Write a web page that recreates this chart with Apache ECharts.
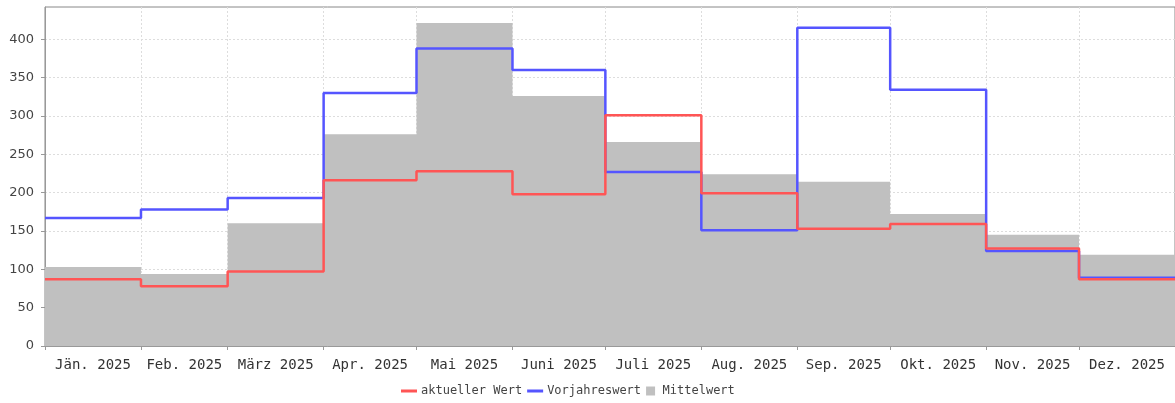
<!DOCTYPE html>
<html>
<head>
<meta charset="utf-8">
<script src="https://cdn.jsdelivr.net/npm/echarts@6/dist/echarts.min.js"></script>
<style>
html, body { margin: 0; background: #fff; }
#chart { width: 1175px; height: 403px; }
</style>
</head>
<body>
<div id="chart"></div>
<script>
// Monate und Tage pro Monat (Zeitachse, daher ungleiche Breiten)
const monthLabels = ['Jän. 2025', 'Feb. 2025', 'März 2025', 'Apr. 2025', 'Mai 2025', 'Juni 2025',
    'Juli 2025', 'Aug. 2025', 'Sep. 2025', 'Okt. 2025', 'Nov. 2025', 'Dez. 2025']
const monthDays = [31, 28, 31, 30, 31, 30, 31, 31, 30, 31, 30, 31]
// Werte
const aktuellerWert = [87, 78, 97, 216, 228, 198, 301, 199, 153, 159, 127, 87]
const vorjahresWert = [167, 178, 193, 330, 388, 360, 227, 151, 415, 334, 124, 89]
const mittelWert = [103, 94, 160, 276, 421, 326, 266, 224, 214, 172, 145, 119]
const yTicks = [0, 50, 100, 150, 200, 250, 300, 350, 400]

//Monatsanfang in Tagen
const monthStarts = [0]
monthDays.forEach((d) => monthStarts.push(monthStarts[monthStarts.length - 1] + d))
const monthMids = monthDays.map((d, i) => monthStarts[i] + d / 2)
//Stufen-Daten: jeder Monat beginnt bei seinem Start, letzter Punkt am Jahresende
const toStep = (vals) => vals.map((v, i) => [monthStarts[i], v]).concat([[monthStarts[12], vals[11]]])

const chart = echarts.init(document.getElementById('chart'))
const option = {
    animation: false,
    grid: {
        left: 45,
        right: 0,
        top: 7,
        bottom: 57,
        show: true,
        borderColor: '#888',
        borderWidth: 1
    },
    legend: {
        top: 380,
        left: 396,
        itemWidth: 16,
        itemHeight: 9,
        itemGap: 5,
        symbolKeepAspect: true,
        textStyle: { fontFamily: 'DejaVu Sans Mono', fontSize: 12, color: '#444', padding: [0, 0, 0, -1] },
        data: [
            { name: 'aktueller Wert', icon: 'path://M0,0H16V3H0Z' },
            { name: 'Vorjahreswert', icon: 'path://M0,0H16V3H0Z' },
            { name: 'Mittelwert', icon: 'path://M0,0H9V9H0Z' }
        ]
    },
    xAxis: {
        type: 'value',
        min: 0,
        max: 365,
        offset: 5,
        axisLine: { show: true, lineStyle: { color: '#999' } },
        axisTick: { show: true, length: 4, customValues: monthStarts, lineStyle: { color: '#999' } },
        axisLabel: {
            customValues: monthMids,
            margin: 7,
            fontFamily: 'DejaVu Sans Mono',
            fontSize: 14,
            color: '#333',
            formatter: (v) => {
                const i = monthMids.findIndex((m) => Math.abs(m - v) < 0.01)
                return i >= 0 ? monthLabels[i] : ''
            }
        },
        splitLine: { show: true, lineStyle: { color: '#ddd', type: [2, 2] } }
    },
    yAxis: {
        type: 'value',
        min: 0,
        max: 442,
        offset: 3,
        axisLine: { show: true, lineStyle: { color: '#999' } },
        axisTick: { show: true, length: 4, customValues: yTicks, lineStyle: { color: '#999' } },
        axisLabel: {
            customValues: yTicks,
            margin: 8,
            fontFamily: 'DejaVu Sans',
            fontSize: 13,
            color: '#444'
        },
        splitLine: { show: true, lineStyle: { color: '#ddd', type: [2, 2] } }
    },
    series: [
        {
            name: 'aktueller Wert',
            type: 'line',
            step: 'end',
            symbol: 'none',
            z: 4,
            color: '#ff5555',
            lineStyle: { width: 2.5, color: '#ff5555' },
            data: toStep(aktuellerWert)
        },
        {
            name: 'Vorjahreswert',
            type: 'line',
            step: 'end',
            symbol: 'none',
            z: 3,
            color: '#5555ff',
            lineStyle: { width: 2.5, color: '#5555ff' },
            data: toStep(vorjahresWert)
        },
        {
            name: 'Mittelwert',
            type: 'line',
            step: 'end',
            symbol: 'none',
            z: 2,
            color: '#c0c0c0',
            lineStyle: { width: 0 },
            areaStyle: { color: '#c0c0c0', opacity: 1 },
            data: toStep(mittelWert)
        }
    ]
}
chart.setOption(option)
</script>
</body>
</html>
